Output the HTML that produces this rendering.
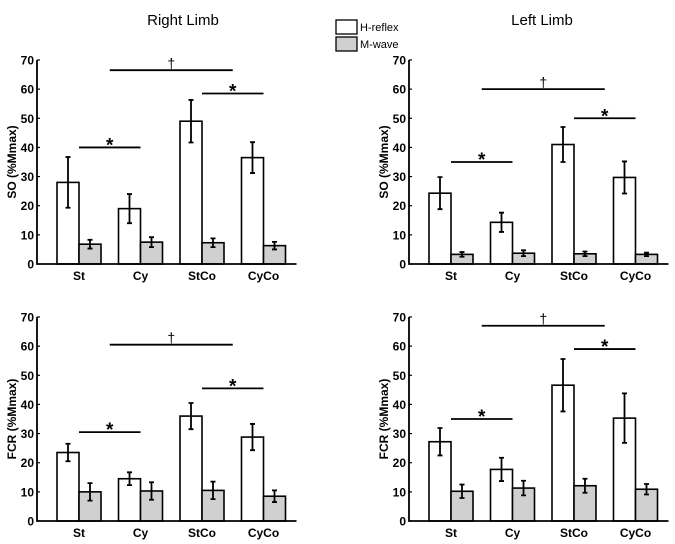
<!DOCTYPE html>
<html><head><meta charset="utf-8"><style>
html,body{margin:0;padding:0;background:#fff;width:675px;height:544px;overflow:hidden}
svg{display:block;font-family:"Liberation Sans",Arial,sans-serif}
</style></head><body>
<svg id="c" width="675" height="544" viewBox="0 0 675 544">
<text x="183" y="25" font-size="15" text-anchor="middle">Right Limb</text>
<text x="542" y="25" font-size="15" text-anchor="middle">Left Limb</text>
<g>
<rect x="336" y="20" width="21" height="14" fill="#fff" stroke="#000" stroke-width="1.3"/>
<text x="360" y="31" font-size="11">H-reflex</text>
<rect x="336" y="37" width="21" height="14" fill="#d0d0d0" stroke="#000" stroke-width="1.3"/>
<text x="360" y="48" font-size="11">M-wave</text>
</g>
</svg>
<script>
const categories=["St","Cy","StCo","CyCo"];
const yTicks=[0,10,20,30,40,50,60,70];
const tlH=[28,19,49,36.5], tlHe=[8.7,5,7.3,5.3], tlM=[6.8,7.5,7.3,6.3], tlMe=[1.5,1.7,1.5,1.3];
const trH=[24.3,14.3,41,29.7], trHe=[5.5,3.3,6,5.5], trM=[3.3,3.7,3.5,3.3], trMe=[0.8,1,0.8,0.6];
const blH=[23.5,14.5,36,28.8], blHe=[3,2.2,4.5,4.5], blM=[10,10.3,10.5,8.5], blMe=[3,3,3,2];
const brH=[27.2,17.7,46.6,35.3], brHe=[4.7,4,9,8.5], brM=[10.2,11.3,12.1,10.9], brMe=[2.3,2.5,2.4,1.8];
const tlSig=[40,58.5,66.5], trSig=[35,50,60], blSig=[30.5,45.5,60.5], brSig=[35,59,67];
const NS='http://www.w3.org/2000/svg';
const svg=document.getElementById('c');
function mk(tag,attrs,parent){const e=document.createElementNS(NS,tag);for(const k in attrs)e.setAttribute(k,attrs[k]);(parent||svg).appendChild(e);return e;}
function panel(name,ox,oy0,oy70,title,H,He,M,Me,sig){
  const g=mk('g',{});
  
  
  const y=v=>oy0-(v/70)*(oy0-oy70);
  const xj=i=>ox+42+i*61.5;
  const bw=22;
  categories.forEach((c,i)=>{
    const bh=mk('rect',{x:xj(i)-bw,y:y(H[i]),width:bw,height:oy0-y(H[i]),fill:'#fff',stroke:'#000','stroke-width':1.6},g);
    
    
    const bm=mk('rect',{x:xj(i),y:y(M[i]),width:bw,height:oy0-y(M[i]),fill:'#d0d0d0',stroke:'#000','stroke-width':1.6},g);
    
    
    [[xj(i)-bw/2,H[i],He[i]],[xj(i)+bw/2,M[i],Me[i]]].forEach(([cx,v,e])=>{
      const eb=mk('path',{d:`M${cx},${y(v-e)}V${y(v+e)}M${cx-2.5},${y(v-e)}H${cx+2.5}M${cx-2.5},${y(v+e)}H${cx+2.5}`,stroke:'#000','stroke-width':1.8,fill:'none'},g);
      
      
    });
    const t=mk('text',{x:xj(i),y:oy0+16,'font-size':12,'font-weight':'bold','text-anchor':'middle'},g);
    t.textContent=c;
    
    
  });
  const ax=mk('path',{d:`M${ox},${oy70}V${oy0}H${xj(3)+bw+11}`,stroke:'#000','stroke-width':1.8,fill:'none'},g);
  
  
  yTicks.forEach(v=>{
    mk('line',{x1:ox,x2:ox+3,y1:y(v),y2:y(v),stroke:'#000','stroke-width':1.2},g);
    const t=mk('text',{x:ox-3,y:y(v)+4.5,'font-size':12,'font-weight':'bold','text-anchor':'end'},g);
    t.textContent=v;
    
    
  });
  const yt=mk('text',{x:0,y:0,'font-size':12,'font-weight':'bold','text-anchor':'middle',transform:`translate(${ox-21},${(oy0+oy70)/2}) rotate(-90)`},g);
  yt.textContent=title;
  
  
  [[0,1,sig[0],'*'],[2,3,sig[1],'*'],[0.5,2.5,sig[2],'†']].forEach(([a,b,v,s])=>{
    const l=mk('line',{x1:xj(a),x2:xj(b),y1:y(v),y2:y(v),stroke:'#000','stroke-width':1.8},g);
    
    
    const t=mk('text',{x:(xj(a)+xj(b))/2,y:s==='*'?y(v)+4:y(v)-2,'font-size':s==='*'?19:14,'font-weight':s==='*'?'bold':'normal','text-anchor':'middle'},g);
    t.textContent=s;
    
    
  });
}
panel('panel-right-so',37,264,60,'SO (%Mmax)',tlH,tlHe,tlM,tlMe,tlSig);
panel('panel-left-so',409,264,60,'SO (%Mmax)',trH,trHe,trM,trMe,trSig);
panel('panel-right-fcr',37,521,317,'FCR (%Mmax)',blH,blHe,blM,blMe,blSig);
panel('panel-left-fcr',409,521,317,'FCR (%Mmax)',brH,brHe,brM,brMe,brSig);
</script>
</body></html>
